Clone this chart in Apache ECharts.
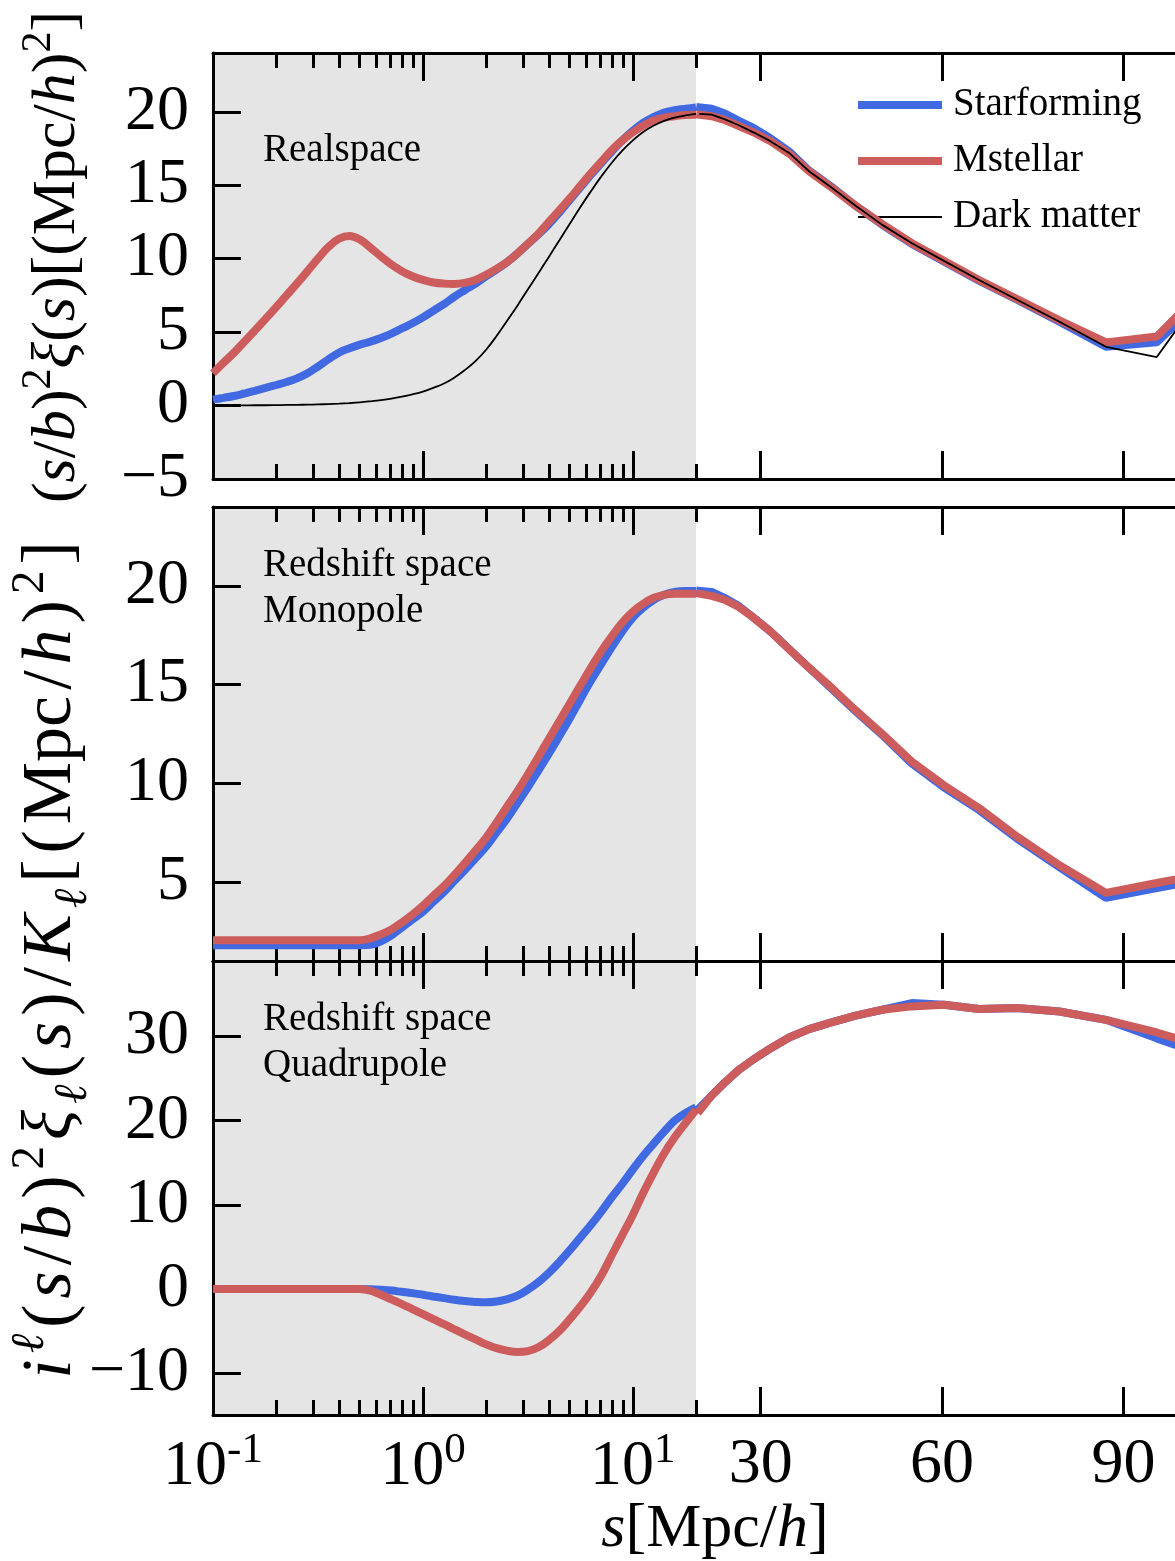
<!DOCTYPE html>
<html>
<head>
<meta charset="utf-8">
<script src="https://cdn.jsdelivr.net/npm/echarts@6/dist/echarts.min.js"></script>
<style>
  html, body { margin: 0; padding: 0; background: #fff; }
  #chart { width: 1175px; height: 1561px; }
</style>
</head>
<body>
<div id="chart"></div>
<script>
// Separation s [Mpc/h]: fine log steps up to 20, then the logarithmic bins of the measurement
const s = [0.1, 0.112, 0.126, 0.141, 0.158, 0.178, 0.2, 0.224, 0.251, 0.282,
  0.316, 0.355, 0.398, 0.447, 0.501, 0.562, 0.631, 0.708, 0.794, 0.891,
  1.0, 1.12, 1.26, 1.41, 1.58, 1.78, 2.0, 2.24, 2.51, 2.82,
  3.16, 3.55, 3.98, 4.47, 5.01, 5.62, 6.31, 7.08, 7.94, 8.91,
  10.0, 11.2, 12.6, 14.1, 15.8, 17.8,
  20.0, 21.9, 24.0, 26.3, 28.8, 31.6, 34.7, 38.0, 41.7, 45.7,
  50.1, 55.0, 60.3, 66.1, 72.4, 79.4, 87.1, 95.5, 104.7];

// Real space (s/b)^2 xi(s)
const realStarforming = [0.4, 0.52, 0.65, 0.82, 1.0, 1.2, 1.4, 1.6, 1.85, 2.2,
  2.65, 3.15, 3.6, 3.9, 4.15, 4.35, 4.6, 4.9, 5.25, 5.6,
  6.0, 6.45, 6.9, 7.4, 7.85, 8.3, 8.8, 9.25, 9.75, 10.35,
  11.0, 11.65, 12.35, 13.15, 14.0, 14.85, 15.7, 16.5, 17.3, 18.05,
  18.7, 19.25, 19.65, 19.95, 20.1, 20.2,
  20.3, 20.2, 19.9, 19.4, 18.9, 18.2, 17.3, 16.0, 14.9, 13.6,
  12.3, 11.0, 9.8, 8.5, 7.2, 5.7, 4.0, 4.3, 7.9];
const realMstellar = [2.2, 2.9, 3.6, 4.35, 5.1, 5.9, 6.7, 7.5, 8.3, 9.15,
  10.0, 10.8, 11.35, 11.55, 11.3, 10.75, 10.15, 9.6, 9.15, 8.8,
  8.55, 8.38, 8.3, 8.28, 8.35, 8.55, 8.9, 9.3, 9.75, 10.35,
  11.0, 11.7, 12.5, 13.3, 14.1, 14.95, 15.8, 16.6, 17.4, 18.05,
  18.6, 19.05, 19.4, 19.6, 19.7, 19.78,
  19.8, 19.7, 19.45, 19.05, 18.6, 18.0, 17.15, 15.95, 14.85, 13.6,
  12.35, 11.05, 9.85, 8.55, 7.25, 5.8, 4.3, 4.7, 8.5];
const realDarkMatter = [0.0, 0.0, 0.0, 0.01, 0.02, 0.02, 0.03, 0.04, 0.05, 0.06,
  0.08, 0.1, 0.13, 0.17, 0.22, 0.29, 0.37, 0.47, 0.6, 0.76,
  0.95, 1.2, 1.5, 1.9, 2.4, 3.02, 3.8, 4.72, 5.74, 6.8,
  7.9, 9.0, 10.12, 11.25, 12.38, 13.5, 14.58, 15.6, 16.53, 17.35,
  18.05, 18.62, 19.06, 19.38, 19.6, 19.75,
  19.85, 19.8, 19.5, 19.1, 18.6, 18.0, 17.2, 15.95, 14.85, 13.6,
  12.3, 11.05, 9.85, 8.55, 7.2, 5.7, 4.0, 3.3, 8.6];

// Redshift space monopole
const monoStarforming = [1.8, 1.8, 1.8, 1.8, 1.8, 1.8, 1.8, 1.8, 1.8, 1.8,
  1.8, 1.8, 1.8, 1.8, 1.8, 1.82, 2.0, 2.3, 2.7, 3.1,
  3.5, 4.0, 4.5, 5.05, 5.6, 6.2, 6.8, 7.5, 8.2, 9.0,
  9.8, 10.65, 11.5, 12.4, 13.3, 14.25, 15.2, 16.05, 16.9, 17.7,
  18.4, 18.9, 19.3, 19.55, 19.7, 19.75,
  19.75, 19.7, 19.4, 19.0, 18.4, 17.7, 16.8, 15.85, 14.8, 13.65,
  12.45, 11.0, 9.8, 8.65, 7.2, 5.75, 4.2, 4.7, 5.2];
const monoMstellar = [2.05, 2.05, 2.05, 2.05, 2.05, 2.05, 2.05, 2.05, 2.05, 2.05,
  2.05, 2.05, 2.05, 2.05, 2.05, 2.15, 2.35, 2.6, 2.95, 3.35,
  3.8, 4.3, 4.8, 5.35, 5.95, 6.6, 7.25, 8.0, 8.8, 9.6,
  10.45, 11.35, 12.25, 13.15, 14.05, 14.95, 15.85, 16.7, 17.45, 18.15,
  18.7, 19.1, 19.4, 19.55, 19.6, 19.6,
  19.6, 19.5, 19.3, 18.95, 18.4, 17.7, 16.8, 15.85, 14.85, 13.7,
  12.5, 11.1, 9.9, 8.75, 7.3, 5.85, 4.45, 4.95, 5.5];

// Redshift space quadrupole
const quadStarforming = [0, 0, 0, 0, 0, 0, 0, 0, 0, 0,
  0, 0, 0, 0, 0, -0.03, -0.1, -0.2, -0.35, -0.5,
  -0.7, -0.9, -1.1, -1.3, -1.45, -1.55, -1.6, -1.5, -1.25, -0.8,
  -0.1, 0.8, 1.9, 3.2, 4.6, 6.1, 7.6, 9.2, 10.9, 12.5,
  14.2, 15.8, 17.3, 18.7, 20.0, 20.9,
  21.6, 23.0, 24.5, 26.0, 27.3, 28.6, 29.9, 30.9, 31.7, 32.5,
  33.2, 34.0, 33.8, 33.3, 33.4, 33.0, 32.0, 29.8, 27.5];
const quadMstellar = [0, 0, 0, 0, 0, 0, 0, 0, 0, 0,
  0, 0, 0, 0, 0, -0.2, -0.7, -1.25, -1.8, -2.4,
  -3.0, -3.6, -4.2, -4.8, -5.4, -6.0, -6.6, -7.05, -7.35, -7.5,
  -7.4, -6.95, -6.1, -5.0, -3.6, -2.1, -0.4, 1.6, 4.0, 6.4,
  8.8, 11.4, 13.9, 16.1, 18.0, 19.7,
  21.3, 23.0, 24.5, 26.0, 27.3, 28.6, 29.9, 30.9, 31.7, 32.5,
  33.2, 33.6, 33.8, 33.3, 33.4, 33.0, 32.0, 30.5, 28.5];

// Tick positions
const xLogMajor = [1, 10];
const xLogMinor = [0.2, 0.3, 0.4, 0.5, 0.6, 0.7, 0.8, 0.9, 2, 3, 4, 5, 6, 7, 8, 9, 20];
const xLogLabels = [0.1, 1, 10];
const xLinMajor = [30, 60, 90];
const yTicksReal = [-5, 0, 5, 10, 15, 20];
const yTicksMono = [5, 10, 15, 20];
const yTicksQuad = [-10, 0, 10, 20, 30];

const S_SPLIT = 20;   // where the log part of the s axis hands over to the linear part

const FONT = '"Liberation Serif", "DejaVu Serif", "Times New Roman", serif';
const BLUE = '#4169E1';
const RED = '#CD5C5C';
const BLACK = '#000000';

const LEFT = 213, SPLIT = 696, RIGHT_W = 488;

const panels = [
  { top: 53, height: 426, yMin: -5, yMax: 24, yTicks: yTicksReal, showX: false,
    lines: [
      { name: 'Starforming', values: realStarforming, color: BLUE, width: 8, z: 3 },
      { name: 'Mstellar', values: realMstellar, color: RED, width: 8, z: 4 },
      { name: 'Dark matter', values: realDarkMatter, color: BLACK, width: 1.8, z: 5 }
    ] },
  { top: 507, height: 454, yMin: 1, yMax: 24, yTicks: yTicksMono, showX: false,
    lines: [
      { name: 'Starforming', values: monoStarforming, color: BLUE, width: 8, z: 3 },
      { name: 'Mstellar', values: monoMstellar, color: RED, width: 8, z: 4 }
    ] },
  { top: 961, height: 454, yMin: -15, yMax: 39, yTicks: yTicksQuad, showX: true,
    lines: [
      { name: 'Starforming', values: quadStarforming, color: BLUE, width: 8, z: 3 },
      { name: 'Mstellar', values: quadMstellar, color: RED, width: 8, z: 4 }
    ] }
];

const frameLine = { show: true, onZero: false, lineStyle: { color: '#000', width: 3 } };
const noLine = { show: false, onZero: false };
const tickLabelStyle = { fontFamily: FONT, fontSize: 64, color: '#000' };

function logAxis(gridIndex, position, ticks, len, withLine, withLabels) {
  return {
    type: 'log', logBase: 10, gridIndex, position, min: 0.1, max: S_SPLIT,
    axisLine: withLine ? frameLine : noLine,
    axisTick: { show: true, inside: true, length: len, customValues: ticks,
      lineStyle: { color: '#000', width: 3 } },
    minorTick: { show: false },
    splitLine: { show: false },
    axisLabel: withLabels ? {
      show: true, customValues: xLogLabels, margin: 14,
      formatter: v => '{b|10}{sup|' + Math.round(Math.log10(v)) + '}',
      rich: {
        b: { fontFamily: FONT, fontSize: 64, color: '#000', lineHeight: 70, verticalAlign: 'bottom' },
        sup: { fontFamily: FONT, fontSize: 43, color: '#000', lineHeight: 48, verticalAlign: 'top' }
      }
    } : { show: false }
  };
}

function linAxis(gridIndex, position, withLabels) {
  return {
    type: 'value', gridIndex, position, min: 19.3, max: 100,
    axisLine: frameLine,
    axisTick: { show: true, inside: true, length: 28, customValues: xLinMajor,
      lineStyle: { color: '#000', width: 3 } },
    splitLine: { show: false },
    axisLabel: withLabels ? Object.assign({ show: true, customValues: xLinMajor, margin: 18 }, tickLabelStyle)
                          : { show: false }
  };
}

const grids = [], xAxes = [], yAxes = [], series = [];

panels.forEach(p => {
  const gL = grids.length;
  grids.push({ left: LEFT, top: p.top, width: SPLIT - LEFT, height: p.height,
    show: true, backgroundColor: '#e5e5e5', borderWidth: 0, outerBoundsMode: 'none' });
  grids.push({ left: SPLIT, top: p.top, width: RIGHT_W, height: p.height, show: false,
    outerBoundsMode: 'none' });

  const xL = xAxes.length;
  xAxes.push(logAxis(gL, 'bottom', xLogMajor, 28, true, p.showX));
  xAxes.push(logAxis(gL, 'bottom', xLogMinor, 15, false, false));
  xAxes.push(logAxis(gL, 'top', xLogMajor, 28, true, false));
  xAxes.push(logAxis(gL, 'top', xLogMinor, 15, false, false));
  const xR = xAxes.length;
  xAxes.push(linAxis(gL + 1, 'bottom', p.showX));
  xAxes.push(linAxis(gL + 1, 'top', false));

  const yL = yAxes.length;
  yAxes.push({
    type: 'value', gridIndex: gL, position: 'left', min: p.yMin, max: p.yMax,
    axisLine: frameLine,
    axisTick: { show: true, inside: true, length: 28, customValues: p.yTicks,
      lineStyle: { color: '#000', width: 3 } },
    splitLine: { show: false },
    axisLabel: Object.assign({ show: true, customValues: p.yTicks, margin: 24,
      formatter: v => (v < 0 ? '\u2212' + (-v) : String(v)) }, tickLabelStyle)
  });
  yAxes.push({ type: 'value', gridIndex: gL + 1, min: p.yMin, max: p.yMax, show: false });

  p.lines.forEach(l => {
    const pts = s.map((x, k) => [x, l.values[k]]);
    const common = {
      type: 'line', name: l.name, showSymbol: false, symbol: 'none',
      color: l.color, z: l.z, clip: true, silent: true
    };
    // log part (s <= 20) and linear part (s >= 20), each in its own grid
    series.push(Object.assign({ xAxisIndex: xL, yAxisIndex: yL, smooth: 0.4,
      lineStyle: { color: l.color, width: l.width, cap: 'butt' },
      data: pts.filter(d => d[0] <= S_SPLIT) }, common));
    series.push(Object.assign({ xAxisIndex: xR, yAxisIndex: yL + 1, smooth: false,
      lineStyle: { color: l.color, width: l.width, cap: 'square' },
      data: pts.filter(d => d[0] >= S_SPLIT) }, common));
  });
});

function legendItem(name, top, h) {
  return {
    data: [{ name, icon: 'rect' }], left: 858, top, padding: 0,
    itemWidth: 84, itemHeight: h, itemGap: 0, selectedMode: false,
    textStyle: { fontFamily: FONT, fontSize: 39, color: '#000', lineHeight: 44, padding: [0, 0, 0, 6] }
  };
}

const richTop = {
  n: { fontFamily: FONT, fontSize: 62, fill: '#000', lineHeight: 80, verticalAlign: 'middle' },
  i: { fontFamily: FONT, fontStyle: 'italic', fontSize: 62, fill: '#000', lineHeight: 80, verticalAlign: 'middle' },
  sp: { fontFamily: FONT, fontSize: 42, fill: '#000', lineHeight: 50, verticalAlign: 'top' }
};
const pad = [0, 3, 0, 3];
const richBottom = {
  n: { fontFamily: FONT, fontSize: 70, fill: '#000', lineHeight: 90, verticalAlign: 'middle', padding: pad },
  i: { fontFamily: FONT, fontStyle: 'italic', fontSize: 70, fill: '#000', lineHeight: 90, verticalAlign: 'middle', padding: pad },
  sp: { fontFamily: FONT, fontSize: 47, fill: '#000', lineHeight: 56, verticalAlign: 'top', padding: pad },
  isp: { fontFamily: FONT, fontStyle: 'italic', fontSize: 47, fill: '#000', lineHeight: 56, verticalAlign: 'top', padding: pad },
  isb: { fontFamily: FONT, fontStyle: 'italic', fontSize: 47, fill: '#000', lineHeight: 56, verticalAlign: 'bottom', padding: pad }
};
const labelFont = '39px ' + FONT;

const graphic = [
  { type: 'text', x: 263, y: 151, style: { text: 'Realspace', textVerticalAlign: 'middle', fill: '#000', font: labelFont } },
  { type: 'text', x: 263, y: 566, style: { text: 'Redshift space', textVerticalAlign: 'middle', fill: '#000', font: labelFont } },
  { type: 'text', x: 263, y: 612, style: { text: 'Monopole', textVerticalAlign: 'middle', fill: '#000', font: labelFont } },
  { type: 'text', x: 263, y: 1020, style: { text: 'Redshift space', textVerticalAlign: 'middle', fill: '#000', font: labelFont } },
  { type: 'text', x: 263, y: 1066, style: { text: 'Quadrupole', textVerticalAlign: 'middle', fill: '#000', font: labelFont } },
  { type: 'text', x: 715, y: 1530, style: {
      text: '{i|s}{n|[Mpc/}{i|h}{n|]}', rich: richTop, textAlign: 'center', textVerticalAlign: 'middle' } },
  { type: 'text', x: 58, y: 257, rotation: Math.PI / 2, style: {
      text: '{n|(}{i|s}{n|/}{i|b}{n|)}{sp|2}{i|ξ}{n|(}{i|s}{n|)[(Mpc/}{i|h}{n|)}{sp|2}{n|]}',
      rich: richTop, textAlign: 'center', textVerticalAlign: 'middle' } },
  { type: 'text', x: 52, y: 960, rotation: Math.PI / 2, style: {
      text: '{i|i}{isp|ℓ}{n|(}{i|s}{n|/}{i|b}{n|)}{sp|2}{i|ξ}{isb|ℓ}{n|(}{i|s}{n|)}{n|/}{i|K}{isb|ℓ}{n|[}{n|(}{n|Mpc}{n|/}{i|h}{n|)}{sp|2}{n|]}',
      rich: richBottom, textAlign: 'center', textVerticalAlign: 'middle' } }
];

const chart = echarts.init(document.getElementById('chart'), null, { renderer: 'canvas' });
chart.setOption({
  animation: false,
  backgroundColor: '#fff',
  grid: grids,
  xAxis: xAxes,
  yAxis: yAxes,
  legend: [
    legendItem('Starforming', 83, 8),
    legendItem('Mstellar', 139, 8),
    legendItem('Dark matter', 195, 2)
  ],
  graphic,
  series
});
</script>
</body>
</html>
